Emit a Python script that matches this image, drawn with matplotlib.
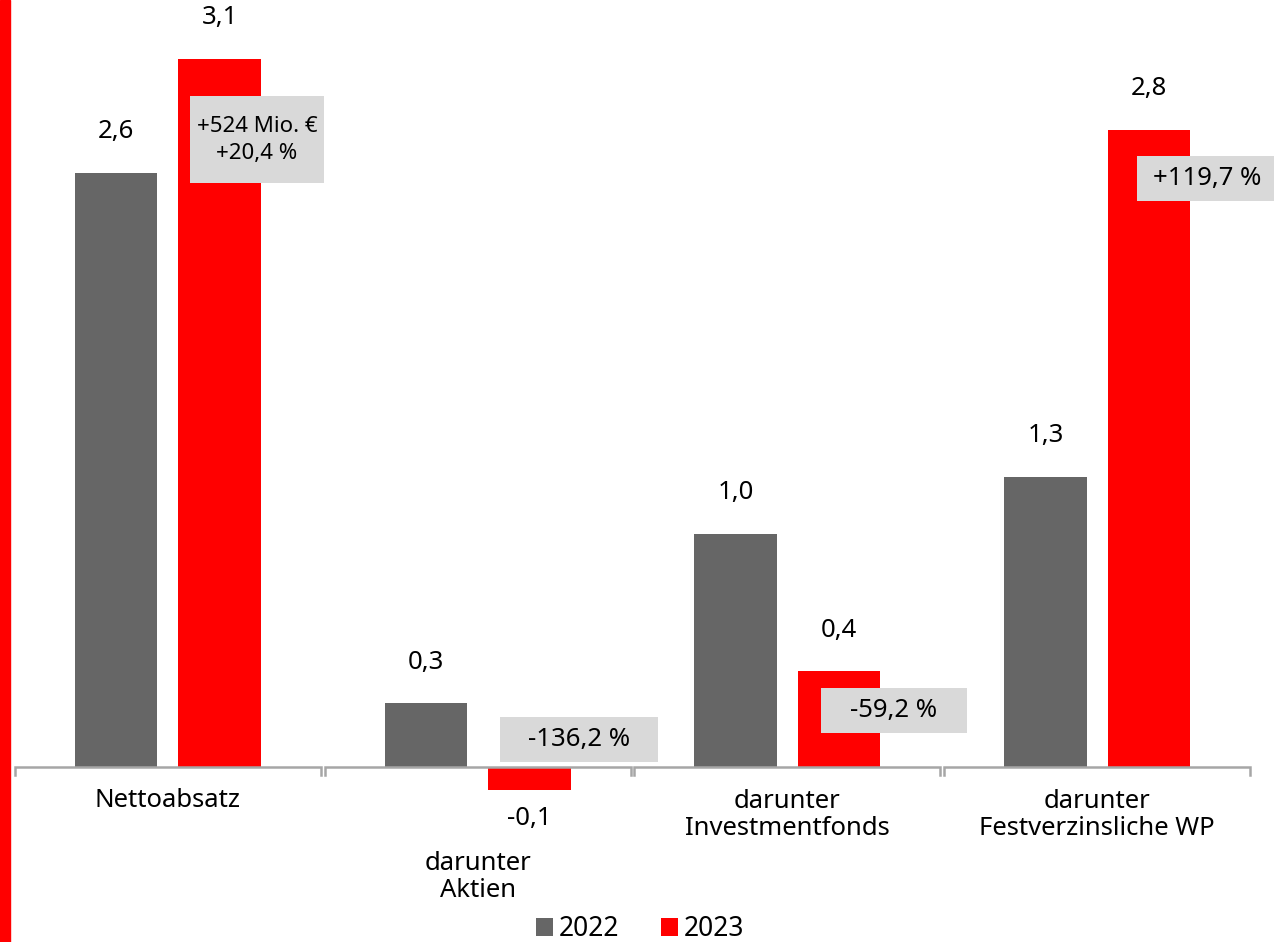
import matplotlib
matplotlib.use("Agg")
import matplotlib.pyplot as plt
from matplotlib.patches import Rectangle

plt.rcParams["font.family"] = ["Noto Sans", "DejaVu Sans"]

# data (Mrd. €)
categories = ["Nettoabsatz", "darunter\nAktien", "darunter\nInvestmentfonds", "darunter\nFestverzinsliche WP"]
values_2022 = [2.6, 0.28, 1.02, 1.27]
values_2023 = [3.1, -0.1, 0.42, 2.79]
changes = ["+524 Mio. €\n+20,4 %", "-136,2 %", "-59,2 %", "+119,7 %"]
years = ["2022", "2023"]

GRAY = "#666666"
RED = "#ff0000"
BOX = "#d9d9d9"

W, H = 1274, 942
fig = plt.figure(figsize=(W / 100, H / 100), dpi=100)
ax = fig.add_axes([13 / W, 0, 1239 / W, 1])
ax.set_xlim(-0.5, 3.5)
ax.set_ylim(-0.766, 3.357)
ax.axis("off")

# red stripe at the left edge
fig.patches.append(Rectangle((0, 0), 10 / W, 1, transform=fig.transFigure,
                             color=RED, zorder=0))

bw = 0.266
off = 0.167
x = list(range(len(categories)))
ax.bar([i - off for i in x], values_2022, width=bw, color=GRAY, label=years[0], zorder=2)
ax.bar([i + off for i in x], values_2023, width=bw, color=RED, label=years[1], zorder=2)

px = 1 / 228.5    # data units per pixel (y)
pxx = 1 / 309.75  # data units per pixel (x)
FS = 18.5


def fmt(v):
    return f"{v:.1f}".replace(".", ",")


for i in x:
    for v, dx in ((values_2022[i], -off), (values_2023[i], off)):
        if v >= 0:
            ax.text(i + dx, v + 41 * px, fmt(v), ha="center", va="center", fontsize=FS)
        else:
            ax.text(i + dx, v - 29 * px, fmt(v), ha="center", va="center", fontsize=FS)

# bracket-style category axis
for i in x:
    g = 0.006
    ax.plot([i - 0.5 + g, i - 0.5 + g, i + 0.5 - g, i + 0.5 - g],
            [-8 * px, 0, 0, -8 * px], color="#a6a6a6", lw=1.8, zorder=3,
            solid_joinstyle="miter")

# category labels
for i, lab in enumerate(categories):
    if values_2023[i] < 0:
        ax.text(i, -110 * px, lab, ha="center", va="center", fontsize=FS, linespacing=1.15)
    elif "\n" in lab:
        ax.text(i, -48 * px, lab, ha="center", va="center", fontsize=FS, linespacing=1.15)
    else:
        ax.text(i, -34 * px, lab, ha="center", va="center", fontsize=FS)


# change boxes: (centre x, centre y, width px, height px)
def change_box(xc, yc, w, h, txt, fs, ls=1.2):
    ax.add_patch(Rectangle((xc - w / 2 * pxx, yc - h / 2 * px), w * pxx, h * px,
                           fc=BOX, ec="none", zorder=4, clip_on=False))
    ax.text(xc, yc, txt, ha="center", va="center", fontsize=fs, linespacing=ls, zorder=5)


change_box(0.288, values_2023[0] - 81 * px, 134, 87, changes[0], 16, 1.35)
change_box(1.327, 27.5 * px, 158, 45, changes[1], FS)
change_box(2.343, values_2023[2] - 39 * px, 146, 45, changes[2], FS)
change_box(3.355, values_2023[3] - 49 * px, 140, 45, changes[3], FS)

leg = fig.legend(loc="center", bbox_to_anchor=(640 / W, 1 - 929 / H), ncol=2, frameon=False,
                 fontsize=19, handlelength=0.65, handleheight=0.65, handletextpad=0.2,
                 columnspacing=1.6, borderpad=0)

fig.savefig("out.png", dpi=100)
